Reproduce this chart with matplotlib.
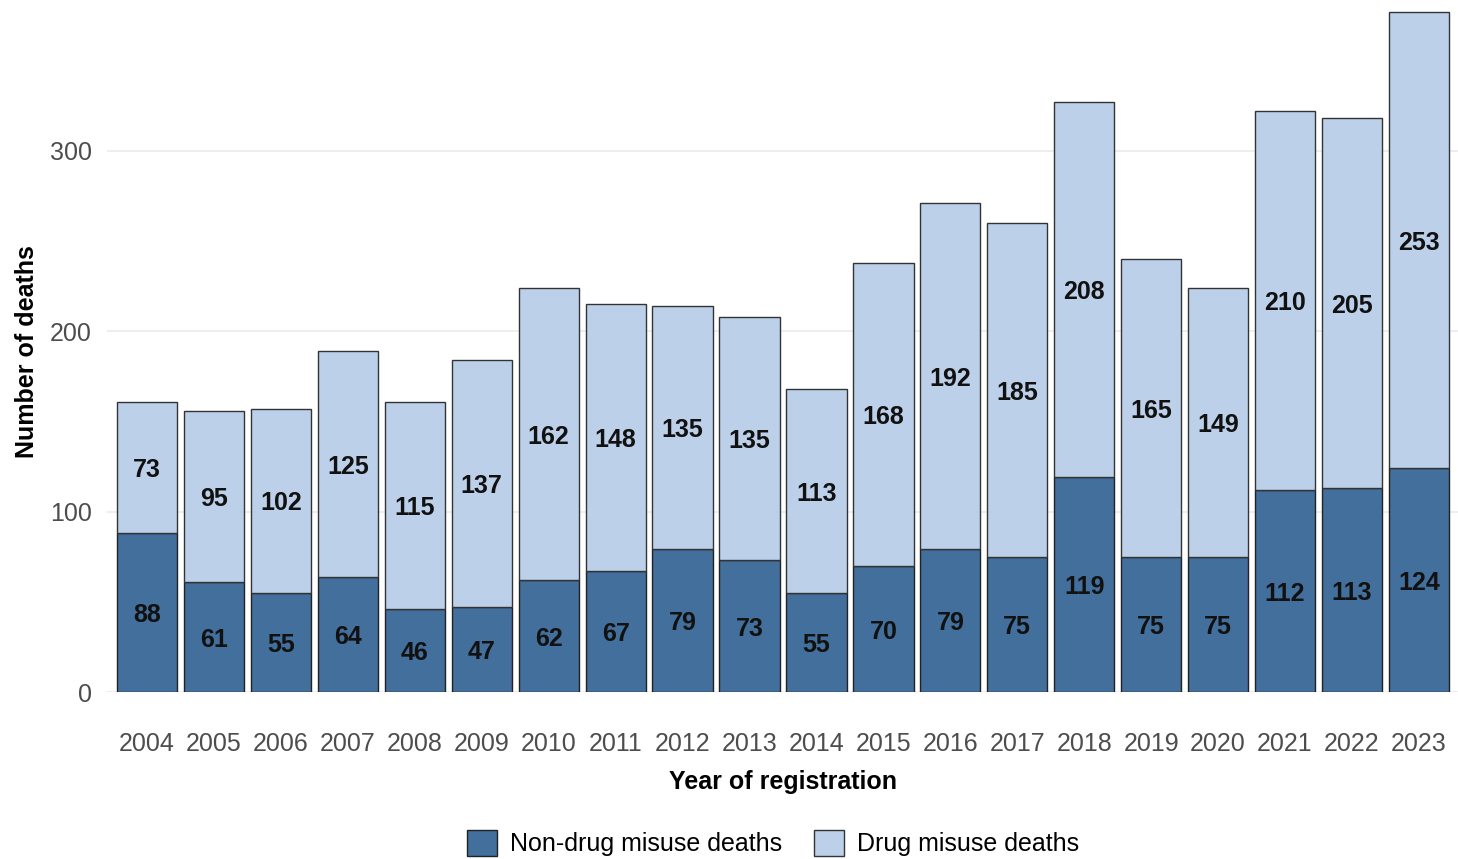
import numpy as np
import matplotlib
matplotlib.use("Agg")
import matplotlib.pyplot as plt
from matplotlib.patches import Patch

plt.rcParams['font.family'] = ['Liberation Sans', 'DejaVu Sans']

years = [str(y) for y in range(2004, 2024)]
non_drug = [88, 61, 55, 64, 46, 47, 62, 67, 79, 73, 55, 70, 79, 75, 119, 75, 75, 112, 113, 124]
drug = [73, 95, 102, 125, 115, 137, 162, 148, 135, 135, 113, 168, 192, 185, 208, 165, 149, 210, 205, 253]

dark = '#426f9c'
light = '#bdd0ea'

fig = plt.figure(figsize=(14.58, 8.59), dpi=100)
ax = fig.add_axes([107 / 1458, 1 - 692 / 859, (1459 - 107) / 1458, (692 - 11) / 859])

x = np.arange(len(years))
nd = np.array(non_drug)
d = np.array(drug)

ax.bar(x, nd, width=0.9, color=dark, edgecolor='#222222', linewidth=1.0, zorder=3)
ax.bar(x, d, width=0.9, bottom=nd, color=light, edgecolor='#333333', linewidth=1.0, zorder=3)

# value labels centred in each segment
for i in range(len(years)):
    ax.text(x[i], nd[i] / 2 - 1.5, str(nd[i]), ha='center', va='center',
            fontsize=18, fontweight='bold', color='#111111', zorder=4)
    ax.text(x[i], nd[i] + d[i] / 2 - 1.5, str(d[i]), ha='center', va='center',
            fontsize=18, fontweight='bold', color='#111111', zorder=4)

ax.set_xlim(-0.6, len(years) - 0.4)
ax.set_ylim(0, 377.5)
ax.set_yticks([0, 100, 200, 300])
ax.set_xticks(x)
ax.set_xticklabels(years)
ax.grid(axis='y', color='#ebebeb', linewidth=1.2, zorder=0)
for s in ax.spines.values():
    s.set_visible(False)
ax.tick_params(axis='both', length=0, labelsize=18, labelcolor='#4d4d4d')
ax.tick_params(axis='x', pad=29)
ax.tick_params(axis='y', pad=11)

ax.set_xlabel('Year of registration', fontsize=18, fontweight='bold', labelpad=10)
ax.set_ylabel('Number of deaths', fontsize=18, fontweight='bold', labelpad=8)

handles = [Patch(facecolor=dark, edgecolor='#222222', label='Non-drug misuse deaths'),
           Patch(facecolor=light, edgecolor='#333333', label='Drug misuse deaths')]
fig.legend(handles=handles, loc='center', bbox_to_anchor=(773 / 1458, 1 - 843 / 859),
           ncol=2, frameon=False, fontsize=18, handlelength=1.2, handleheight=1.2,
           handletextpad=0.5, columnspacing=1.3)

fig.savefig('out.png', dpi=100)
